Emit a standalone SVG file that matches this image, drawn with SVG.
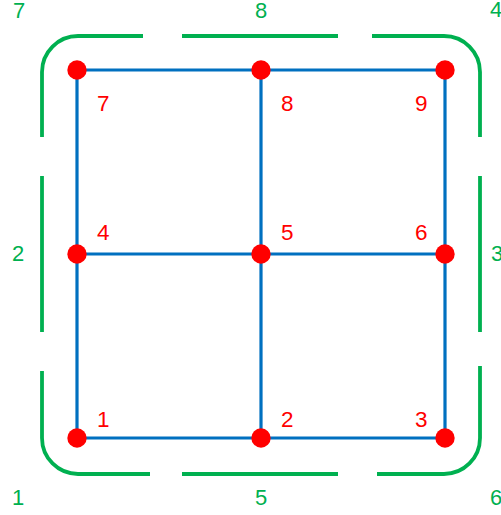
<svg xmlns="http://www.w3.org/2000/svg" width="501" height="515" viewBox="0 0 501 515">
<style>
.edge{stroke:#0070C0;stroke-width:3.2;fill:none;stroke-linecap:butt}
.dot{fill:#FF0000}
.rl{fill:#FF0000;font-family:"Liberation Sans",Arial,sans-serif;font-size:22.5px}
.gl{fill:#00B050;font-family:"Liberation Sans",Arial,sans-serif;font-size:22px}
.frame{stroke:#00B050;stroke-width:3.8;fill:none}
</style>
<rect width="501" height="515" fill="#FFFFFF"/>
<g id="frame">
<path class="frame" d="M42,137 V72 A36,36 0 0 1 78,36 H143"/>
<path class="frame" d="M182,36 H338"/>
<path class="frame" d="M372,36 H444 A36,36 0 0 1 480,72 V137"/>
<path class="frame" d="M42,176 V332"/>
<path class="frame" d="M480,176 V332"/>
<path class="frame" d="M42,371 V438 A36,36 0 0 0 78,474 H150"/>
<path class="frame" d="M182,474 H338"/>
<path class="frame" d="M377,474 H444 A36,36 0 0 0 480,438 V366"/>
</g>
<g id="frame-labels">
<text class="gl" x="13" y="18">7</text>
<text class="gl" x="255" y="18">8</text>
<text class="gl" x="490" y="17">4</text>
<text class="gl" x="12" y="261">2</text>
<text class="gl" x="491" y="261">3</text>
<text class="gl" x="12" y="505">1</text>
<text class="gl" x="255" y="505">5</text>
<text class="gl" x="490" y="505">6</text>
</g>
<g id="connectors">
<line class="edge" x1="77" y1="70" x2="445" y2="70"/>
<line class="edge" x1="77" y1="254" x2="445" y2="254"/>
<line class="edge" x1="77" y1="438" x2="445" y2="438"/>
<line class="edge" x1="77" y1="70" x2="77" y2="438"/>
<line class="edge" x1="261" y1="70" x2="261" y2="438"/>
<line class="edge" x1="445" y1="70" x2="445" y2="438"/>
</g>
<g id="node-7"><circle class="dot" cx="77" cy="70" r="9.7"/><text class="rl" x="97" y="111">7</text></g>
<g id="node-8"><circle class="dot" cx="261" cy="70" r="9.7"/><text class="rl" x="281" y="111">8</text></g>
<g id="node-9"><circle class="dot" cx="445" cy="70" r="9.7"/><text class="rl" x="415" y="111">9</text></g>
<g id="node-4"><circle class="dot" cx="77" cy="254" r="9.7"/><text class="rl" x="97" y="240">4</text></g>
<g id="node-5"><circle class="dot" cx="261" cy="254" r="9.7"/><text class="rl" x="281" y="240">5</text></g>
<g id="node-6"><circle class="dot" cx="445" cy="254" r="9.7"/><text class="rl" x="415" y="240">6</text></g>
<g id="node-1"><circle class="dot" cx="77" cy="438" r="9.7"/><text class="rl" x="97" y="427">1</text></g>
<g id="node-2"><circle class="dot" cx="261" cy="438" r="9.7"/><text class="rl" x="281" y="427">2</text></g>
<g id="node-3"><circle class="dot" cx="445" cy="438" r="9.7"/><text class="rl" x="415" y="427">3</text></g>
</svg>
